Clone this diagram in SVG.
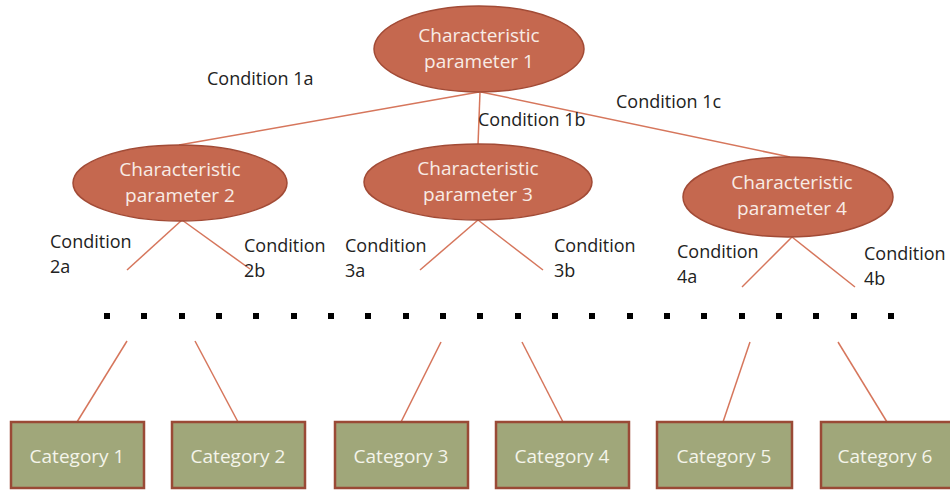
<svg xmlns="http://www.w3.org/2000/svg" width="950" height="490" viewBox="0 0 950 490">
<style>
.ell{fill:#C5684F;stroke:#A24B36;stroke-width:1.5}
.box{fill:#A0A77A;stroke:#9A4A36;stroke-width:2.5}
.et{font-family:"Open Sans","Noto Sans",sans-serif;font-size:19px;fill:#F8ECE6;text-anchor:middle}
.bt{font-family:"Open Sans","Noto Sans",sans-serif;font-size:19px;fill:#F4F4EA;text-anchor:middle}
.lbl{font-family:"Open Sans","Noto Sans",sans-serif;font-size:18px;fill:#222}
.ln{stroke:#D6765C;stroke-width:1.5;fill:none}
.dot{fill:#000}
</style>
<rect width="950" height="490" fill="#fff"/>
<g id="connectors">
<line class="ln" x1="479" y1="92" x2="179" y2="145"/>
<line class="ln" x1="480" y1="92" x2="478" y2="145"/>
<line class="ln" x1="481" y1="92" x2="790" y2="157"/>
<line class="ln" x1="182" y1="220" x2="127" y2="270"/>
<line class="ln" x1="182" y1="220" x2="250" y2="269"/>
<line class="ln" x1="478" y1="220" x2="420" y2="270"/>
<line class="ln" x1="478" y1="220" x2="543" y2="270"/>
<line class="ln" x1="792" y1="237" x2="742" y2="287"/>
<line class="ln" x1="792" y1="237" x2="855" y2="287"/>
<line class="ln" x1="127" y1="341" x2="77" y2="422"/>
<line class="ln" x1="195" y1="341" x2="238" y2="422"/>
<line class="ln" x1="441" y1="342" x2="401" y2="422"/>
<line class="ln" x1="522" y1="342" x2="563" y2="422"/>
<line class="ln" x1="750" y1="342" x2="723" y2="422"/>
<line class="ln" x1="838" y1="342" x2="887" y2="422"/>
</g>
<g id="labels">
<text class="lbl" x="207" y="85">Condition 1a</text>
<text class="lbl" x="478" y="126">Condition 1b</text>
<text class="lbl" x="616" y="108">Condition 1c</text>
<text class="lbl" x="50" y="248">Condition</text>
<text class="lbl" x="50" y="273">2a</text>
<text class="lbl" x="244" y="252">Condition</text>
<text class="lbl" x="244" y="277">2b</text>
<text class="lbl" x="345" y="252">Condition</text>
<text class="lbl" x="345" y="277">3a</text>
<text class="lbl" x="554" y="252">Condition</text>
<text class="lbl" x="554" y="277">3b</text>
<text class="lbl" x="677" y="258">Condition</text>
<text class="lbl" x="677" y="283">4a</text>
<text class="lbl" x="864" y="260">Condition</text>
<text class="lbl" x="864" y="285">4b</text>
</g>
<g id="dots">
<rect class="dot" x="104" y="313" width="6" height="6"/>
<rect class="dot" x="141" y="313" width="6" height="6"/>
<rect class="dot" x="179" y="313" width="6" height="6"/>
<rect class="dot" x="216" y="313" width="6" height="6"/>
<rect class="dot" x="253" y="313" width="6" height="6"/>
<rect class="dot" x="291" y="313" width="6" height="6"/>
<rect class="dot" x="328" y="313" width="6" height="6"/>
<rect class="dot" x="365" y="313" width="6" height="6"/>
<rect class="dot" x="403" y="313" width="6" height="6"/>
<rect class="dot" x="440" y="313" width="6" height="6"/>
<rect class="dot" x="477" y="313" width="6" height="6"/>
<rect class="dot" x="515" y="313" width="6" height="6"/>
<rect class="dot" x="552" y="313" width="6" height="6"/>
<rect class="dot" x="589" y="313" width="6" height="6"/>
<rect class="dot" x="627" y="313" width="6" height="6"/>
<rect class="dot" x="664" y="313" width="6" height="6"/>
<rect class="dot" x="701" y="313" width="6" height="6"/>
<rect class="dot" x="739" y="313" width="6" height="6"/>
<rect class="dot" x="776" y="313" width="6" height="6"/>
<rect class="dot" x="813" y="313" width="6" height="6"/>
<rect class="dot" x="851" y="313" width="6" height="6"/>
<rect class="dot" x="888" y="313" width="6" height="6"/>
</g>
<g id="param1">
<ellipse class="ell" cx="479" cy="49" rx="105" ry="43"/>
<text class="et" x="479" y="42">Characteristic</text>
<text class="et" x="479" y="68">parameter 1</text>
</g>
<g id="param2">
<ellipse class="ell" cx="180" cy="183" rx="107" ry="38"/>
<text class="et" x="180" y="176">Characteristic</text>
<text class="et" x="180" y="202">parameter 2</text>
</g>
<g id="param3">
<ellipse class="ell" cx="478" cy="182" rx="114" ry="38"/>
<text class="et" x="478" y="175">Characteristic</text>
<text class="et" x="478" y="201">parameter 3</text>
</g>
<g id="param4">
<ellipse class="ell" cx="788" cy="197" rx="105" ry="40"/>
<text class="et" x="792" y="189">Characteristic</text>
<text class="et" x="792" y="215">parameter 4</text>
</g>
<g id="cat1"><rect class="box" x="11" y="422" width="133" height="66"/><text class="bt" x="77" y="463">Category 1</text></g>
<g id="cat2"><rect class="box" x="172" y="422" width="133" height="66"/><text class="bt" x="238" y="463">Category 2</text></g>
<g id="cat3"><rect class="box" x="335" y="422" width="133" height="66"/><text class="bt" x="401" y="463">Category 3</text></g>
<g id="cat4"><rect class="box" x="496" y="422" width="133" height="66"/><text class="bt" x="562" y="463">Category 4</text></g>
<g id="cat5"><rect class="box" x="657" y="422" width="135" height="66"/><text class="bt" x="724" y="463">Category 5</text></g>
<g id="cat6"><rect class="box" x="821" y="422" width="135" height="66"/><text class="bt" x="885" y="463">Category 6</text></g>
</svg>
